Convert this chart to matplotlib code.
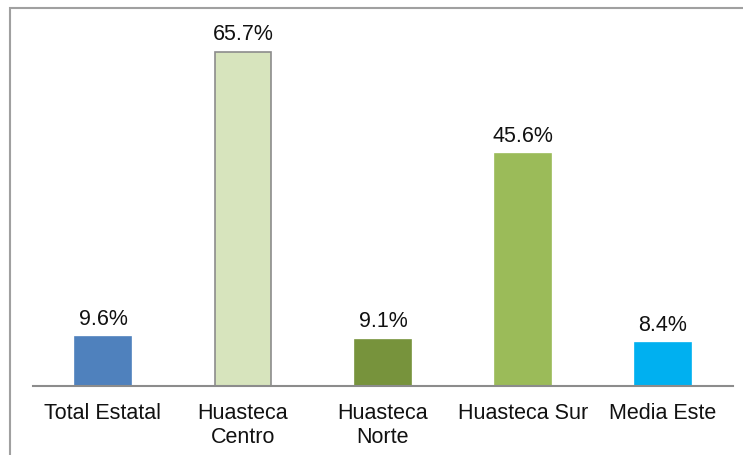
import matplotlib.pyplot as plt
from matplotlib.patches import Rectangle

plt.rcParams['font.family'] = ['Liberation Sans', 'DejaVu Sans']

regions = ["Total Estatal", "Huasteca\nCentro", "Huasteca\nNorte", "Huasteca Sur", "Media Este"]
values = [9.6, 65.7, 9.1, 45.6, 8.4]
colors = ["#4F81BD", "#D7E4BD", "#77933C", "#9BBB59", "#00B0F0"]
edges = ["#4F81BD", "#8C8C8C", "#77933C", "#9BBB59", "#00B0F0"]

W, H = 743, 455
fig = plt.figure(figsize=(W / 100, H / 100), dpi=100)
ax = fig.add_axes([33 / W, (H - 386) / H, 700 / W, 366 / H])

x = range(len(regions))
ax.bar(x, values, width=0.4, color=colors, edgecolor=edges, linewidth=1.2, zorder=2)
for i, v in zip(x, values):
    ax.text(i, v + 1.45, f"{v}%", ha="center", va="bottom", fontsize=15.5, color="#111111")

ax.set_xlim(-0.5, len(regions) - 0.5)
ax.set_ylim(0, 72)
ax.set_xticks(list(x))
ax.set_xticklabels(regions, fontsize=15.5, color="#111111", linespacing=1.2)
ax.tick_params(axis="x", length=0, pad=12)
ax.set_yticks([])
for s in ["top", "right", "left"]:
    ax.spines[s].set_visible(False)
ax.spines["bottom"].set_color("#8C8C8C")
ax.spines["bottom"].set_linewidth(1.5)

# outer chart frame
fig.patches.append(Rectangle((10 / W, -0.05), 1.1, (H - 8) / H + 0.05,
                             transform=fig.transFigure, fill=False,
                             edgecolor="#A0A0A0", linewidth=1.5))

fig.savefig("out.png", dpi=100)
